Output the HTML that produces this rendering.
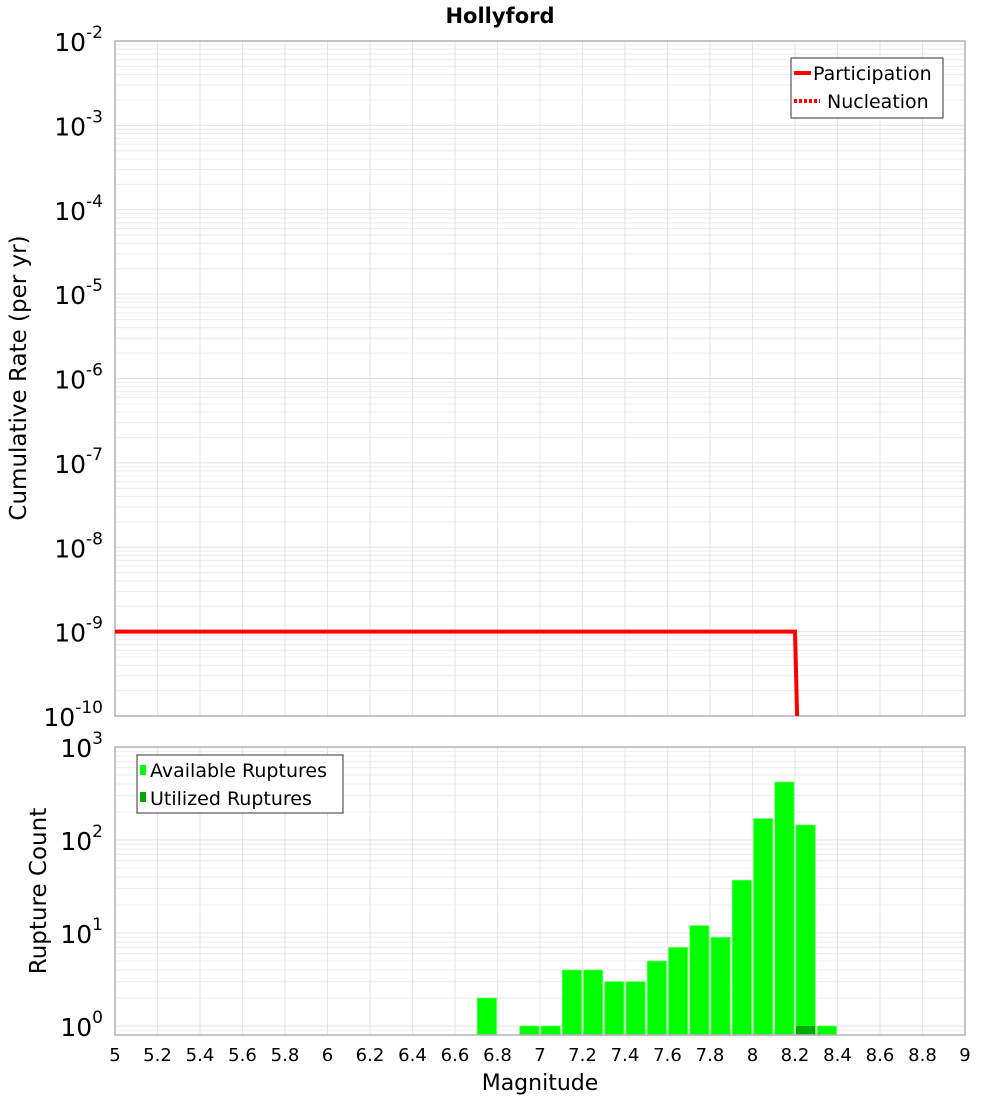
<!DOCTYPE html>
<html><head><meta charset="utf-8"><style>
body{margin:0;background:#fff;}
svg text{font-family:"DejaVu Sans","Liberation Sans",sans-serif;fill:#000;}
</style></head><body>
<svg id="c" width="1000" height="1100" xmlns="http://www.w3.org/2000/svg"></svg>
<script>
const xTicks=[5,5.2,5.4,5.6,5.8,6,6.2,6.4,6.6,6.8,7,7.2,7.4,7.6,7.8,8,8.2,8.4,8.6,8.8,9];
const rateMags=[5,8.2,8.21];
const rateVals=[1e-9,1e-9,1e-10];
const binCenters=[6.75,6.95,7.05,7.15,7.25,7.35,7.45,7.55,7.65,7.75,7.85,7.95,8.05,8.15,8.25,8.35];
const availCounts=[2,1,1,4,4,3,3,5,7,12,9,37,170,420,145,1];
const utilCenters=[8.25];
const utilCounts=[1];
const topExps=[-10,-9,-8,-7,-6,-5,-4,-3,-2];
const botExps=[0,1,2,3];

const svg=document.getElementById('c');
const NS='http://www.w3.org/2000/svg';
function mk(t,a,p){const e=document.createElementNS(NS,t);for(const k in a)e.setAttribute(k,a[k]);(p||svg).appendChild(e);return e;}
const X0=115,X1=965;
const xs=m=>X0+(m-5)/4*(X1-X0);
const T0=41,T1=716;
const ysT=v=>T1-(Math.log10(v)+10)/8*(T1-T0);
const B0=747,B1=1035,BD=93;
const ysB=v=>1026-Math.log10(v)*BD;

function grid(y0,y1,ysf,e0,e1,g){
  for(let e=e0;e<e1;e++)for(let k=1;k<10;k++){const y=ysf(k*Math.pow(10,e));if(y<y0-0.5||y>y1+0.5)continue;
    const l=mk('line',{x1:X0,x2:X1,y1:y,y2:y,stroke:k==1?'#e2e2e2':'#ececec','stroke-width':1},g);
    }
  xTicks.forEach(t=>{const l=mk('line',{x1:xs(t),x2:xs(t),y1:y0,y2:y1,stroke:'#e6e6e6'},g);
    });
}
// Title
const ti=mk('text',{x:500,y:23,'text-anchor':'middle','font-size':21,'font-weight':'bold'});ti.textContent='Hollyford';


// Top plot
const gt=mk('g',{});
grid(T0,T1,ysT,-10,-2,gt);
mk('rect',{x:X0,y:T0,width:X1-X0,height:T1-T0,fill:'none',stroke:'#b0b0b0','stroke-width':1.5},gt);
topExps.forEach(e=>{const y=ysT(Math.pow(10,e));
  const t=mk('text',{x:103,y:y+10,'text-anchor':'end','font-size':25},gt);
  t.innerHTML='10<tspan dy="-13" font-size="17">'+e+'</tspan>';
  });
const yt=mk('text',{transform:'translate(26,378) rotate(-90)','text-anchor':'middle','font-size':23});yt.textContent='Cumulative Rate (per yr)';

const pts=rateMags.map((m,i)=>xs(m)+','+ysT(rateVals[i])).join(' ');
const pl=mk('polyline',{points:pts,fill:'none',stroke:'#ff0000','stroke-width':4},gt);

// legend top
const lg=mk('g',{});
mk('rect',{x:791,y:58,width:152,height:60,fill:'#fff',stroke:'#333'},lg);
mk('line',{x1:794,x2:811,y1:73,y2:73,stroke:'#f00','stroke-width':4},lg);
mk('line',{x1:794,x2:820,y1:101,y2:101,stroke:'#f00','stroke-width':4,'stroke-dasharray':'3,2'},lg);
let t=mk('text',{x:813,y:80,'font-size':19},lg);t.textContent='Participation';
t=mk('text',{x:827,y:108,'font-size':19},lg);t.textContent='Nucleation';

// Bottom plot
const gb=mk('g',{});
grid(B0,B1,ysB,-1,3,gb);
binCenters.forEach((c,i)=>{const y=ysB(availCounts[i]);
  const r=mk('rect',{x:xs(c-0.05)+1,y:y,width:xs(c+0.05)-xs(c-0.05)-2,height:B1-y,fill:'#00ff00',stroke:'#66ff66','stroke-width':0.8},gb);
  });
utilCenters.forEach((c,i)=>{const y=ysB(utilCounts[i]);
  const r=mk('rect',{x:xs(c-0.05)+1,y:y,width:xs(c+0.05)-xs(c-0.05)-2,height:B1-y,fill:'#00aa00'},gb);
  });
mk('rect',{x:X0,y:B0,width:X1-X0,height:B1-B0,fill:'none',stroke:'#b0b0b0','stroke-width':1.5},gb);
botExps.forEach(e=>{const y=ysB(Math.pow(10,e));
  const t=mk('text',{x:103,y:y+10,'text-anchor':'end','font-size':25},gb);
  t.innerHTML='10<tspan dy="-13" font-size="17">'+e+'</tspan>';
  });
const yb=mk('text',{transform:'translate(46,891) rotate(-90)','text-anchor':'middle','font-size':23});yb.textContent='Rupture Count';

xTicks.forEach(v=>{const t=mk('text',{x:xs(v),y:1061,'text-anchor':'middle','font-size':18});t.textContent=String(v);
  });
const xt=mk('text',{x:540,y:1090,'text-anchor':'middle','font-size':22});xt.textContent='Magnitude';

const lb=mk('g',{});
mk('rect',{x:137,y:755,width:206,height:58,fill:'#fff',stroke:'#333'},lb);
mk('rect',{x:140,y:765,width:6,height:10,fill:'#00ff00'},lb);
mk('rect',{x:140,y:792,width:6,height:10,fill:'#00aa00'},lb);
t=mk('text',{x:150,y:777,'font-size':19},lb);t.textContent='Available Ruptures';
t=mk('text',{x:150,y:805,'font-size':19},lb);t.textContent='Utilized Ruptures';
</script>
</body></html>
